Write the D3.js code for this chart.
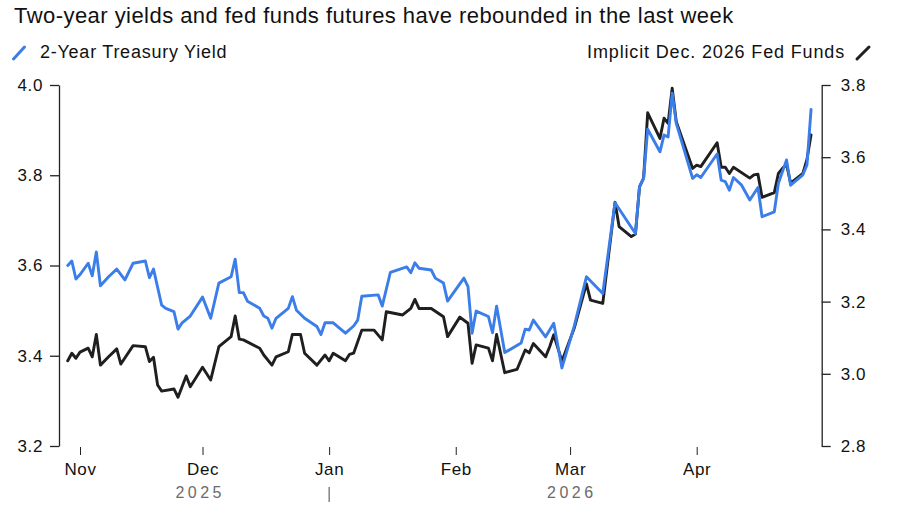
<!DOCTYPE html>
<html>
<head>
<meta charset="utf-8">
<script src="https://cdn.jsdelivr.net/npm/d3@7"></script>
<style>
  html, body { margin: 0; padding: 0; background: #fff; }
  svg { display: block; font-family: "Liberation Sans", Arial, Helvetica, sans-serif; }
</style>
</head>
<body>
<svg id="chart" width="900" height="510"></svg>
<script>
const titleText = "Two-year yields and fed funds futures have rebounded in the last week";
const seriesNames = ["2-Year Treasury Yield", "Implicit Dec. 2026 Fed Funds"];

const yieldDates = ["2025-10-29","2025-10-30","2025-10-31","2025-11-01","2025-11-03","2025-11-04","2025-11-05","2025-11-06","2025-11-08","2025-11-10","2025-11-12","2025-11-14","2025-11-17","2025-11-18","2025-11-19","2025-11-21","2025-11-22","2025-11-24","2025-11-25","2025-11-26","2025-11-28","2025-12-01","2025-12-03","2025-12-05","2025-12-08","2025-12-09","2025-12-10","2025-12-11","2025-12-12","2025-12-15","2025-12-16","2025-12-17","2025-12-18","2025-12-19","2025-12-22","2025-12-23","2025-12-24","2025-12-26","2025-12-29","2025-12-30","2025-12-31","2026-01-02","2026-01-05","2026-01-07","2026-01-08","2026-01-09","2026-01-13","2026-01-14","2026-01-16","2026-01-20","2026-01-21","2026-01-22","2026-01-23","2026-01-26","2026-01-27","2026-01-29","2026-01-30","2026-02-03","2026-02-04","2026-02-05","2026-02-06","2026-02-09","2026-02-10","2026-02-11","2026-02-13","2026-02-17","2026-02-18","2026-02-19","2026-02-20","2026-02-23","2026-02-25","2026-02-27","2026-03-02","2026-03-05","2026-03-09","2026-03-12","2026-03-17","2026-03-18","2026-03-19","2026-03-20","2026-03-23","2026-03-24","2026-03-25","2026-03-26","2026-03-27","2026-03-31","2026-04-01","2026-04-02","2026-04-06","2026-04-07","2026-04-08","2026-04-09","2026-04-10","2026-04-12","2026-04-14","2026-04-16","2026-04-17","2026-04-20","2026-04-21","2026-04-23","2026-04-24","2026-04-27","2026-04-28","2026-04-29"];
const yieldValues = [3.600,3.610,3.570,3.580,3.605,3.577,3.630,3.555,3.575,3.592,3.568,3.605,3.610,3.573,3.592,3.512,3.505,3.498,3.459,3.473,3.488,3.530,3.483,3.561,3.575,3.614,3.540,3.540,3.521,3.505,3.488,3.483,3.461,3.483,3.505,3.531,3.501,3.483,3.465,3.447,3.473,3.473,3.450,3.466,3.479,3.532,3.535,3.510,3.585,3.597,3.584,3.606,3.594,3.590,3.572,3.561,3.521,3.572,3.553,3.450,3.499,3.487,3.451,3.510,3.407,3.428,3.459,3.457,3.479,3.442,3.472,3.373,3.465,3.575,3.538,3.739,3.671,3.775,3.793,3.902,3.852,3.889,3.885,3.982,3.915,3.793,3.801,3.795,3.847,3.789,3.786,3.767,3.795,3.778,3.745,3.773,3.708,3.719,3.782,3.834,3.778,3.801,3.823,3.946];

const fedDates = ["2025-10-29","2025-10-30","2025-10-31","2025-11-01","2025-11-03","2025-11-04","2025-11-05","2025-11-06","2025-11-08","2025-11-10","2025-11-11","2025-11-14","2025-11-17","2025-11-18","2025-11-19","2025-11-20","2025-11-21","2025-11-24","2025-11-25","2025-11-27","2025-11-28","2025-12-01","2025-12-03","2025-12-05","2025-12-08","2025-12-09","2025-12-10","2025-12-11","2025-12-15","2025-12-16","2025-12-18","2025-12-19","2025-12-22","2025-12-23","2025-12-25","2025-12-26","2025-12-29","2025-12-31","2026-01-01","2026-01-02","2026-01-05","2026-01-06","2026-01-07","2026-01-09","2026-01-12","2026-01-14","2026-01-15","2026-01-19","2026-01-21","2026-01-22","2026-01-23","2026-01-26","2026-01-29","2026-01-30","2026-02-02","2026-02-04","2026-02-05","2026-02-06","2026-02-09","2026-02-10","2026-02-11","2026-02-13","2026-02-16","2026-02-18","2026-02-19","2026-02-20","2026-02-23","2026-02-24","2026-02-25","2026-02-27","2026-03-02","2026-03-05","2026-03-06","2026-03-09","2026-03-12","2026-03-13","2026-03-16","2026-03-17","2026-03-18","2026-03-19","2026-03-20","2026-03-23","2026-03-24","2026-03-25","2026-03-26","2026-03-27","2026-03-31","2026-04-01","2026-04-02","2026-04-06","2026-04-07","2026-04-08","2026-04-09","2026-04-10","2026-04-14","2026-04-15","2026-04-16","2026-04-17","2026-04-20","2026-04-21","2026-04-22","2026-04-23","2026-04-24","2026-04-27","2026-04-28","2026-04-29"];
const fedValues = [3.036,3.057,3.043,3.060,3.071,3.047,3.109,3.024,3.047,3.069,3.027,3.078,3.075,3.034,3.046,2.969,2.952,2.958,2.935,2.994,2.964,3.018,2.983,3.075,3.103,3.160,3.096,3.094,3.071,3.052,3.024,3.047,3.061,3.109,3.109,3.057,3.024,3.052,3.036,3.057,3.036,3.054,3.057,3.121,3.121,3.094,3.172,3.163,3.181,3.206,3.181,3.181,3.158,3.103,3.157,3.140,3.029,3.080,3.071,3.036,3.109,3.003,3.012,3.066,3.058,3.084,3.047,3.075,3.108,3.035,3.126,3.249,3.204,3.195,3.475,3.408,3.380,3.387,3.518,3.542,3.723,3.652,3.708,3.694,3.791,3.698,3.569,3.578,3.574,3.640,3.572,3.572,3.555,3.572,3.542,3.551,3.553,3.489,3.502,3.555,3.569,3.580,3.528,3.555,3.594,3.662];

const leftTicks = [3.2, 3.4, 3.6, 3.8, 4.0];
const rightTicks = [2.8, 3.0, 3.2, 3.4, 3.6, 3.8];
const monthTicks = ["2025-11-01","2025-12-01","2026-01-01","2026-02-01","2026-03-01","2026-04-01"];
const yearLabels = ["2025", "2026"];
const yearLabelDates = ["2025-11-30", "2026-03-01"];
const yearBoundary = "2026-01-01";

const BLUE = "#3b7de9";
const BLACK = "#1f1f1f";
const parse = d3.utcParse("%Y-%m-%d");

const svg = d3.select("#chart");

const x = d3.scaleUtc()
  .domain([parse("2025-11-01"), parse("2026-04-01")])
  .range([80, 696.7]);
const yL = d3.scaleLinear().domain([3.2, 4.0]).range([446, 85]);
const yR = d3.scaleLinear().domain([2.8, 3.8]).range([446, 85]);

// Title
svg.append("text")
  .attr("x", 14).attr("y", 23)
  .attr("font-size", 22).attr("letter-spacing", 0.45)
  .attr("fill", "#111")
  .text(titleText);

// Legend
const legendY = 58;
svg.append("line").attr("x1", 13.5).attr("y1", 59).attr("x2", 24.5).attr("y2", 47)
  .attr("stroke", BLUE).attr("stroke-width", 3).attr("stroke-linecap", "round");
svg.append("text").attr("x", 40).attr("y", legendY)
  .attr("font-size", 18).attr("letter-spacing", 0.75).attr("fill", "#111")
  .text(seriesNames[0]);
svg.append("line").attr("x1", 857).attr("y1", 59).attr("x2", 869).attr("y2", 47)
  .attr("stroke", BLACK).attr("stroke-width", 3).attr("stroke-linecap", "round");
svg.append("text").attr("x", 845).attr("y", legendY).attr("text-anchor", "end")
  .attr("font-size", 18).attr("letter-spacing", 0.85).attr("fill", "#111")
  .text(seriesNames[1]);

// Axes
function styleAxis(g) {
  g.selectAll("path.domain").attr("stroke", "#222").attr("stroke-width", 1.3);
  g.selectAll(".tick line").attr("stroke", "#222").attr("stroke-width", 1.3);
  g.selectAll(".tick text").attr("fill", "#111").attr("font-size", 17)
    .attr("letter-spacing", 0.6)
    .attr("font-family", "'Liberation Sans', Arial, sans-serif");
}

const gL = svg.append("g").attr("transform", "translate(59,0)")
  .call(d3.axisLeft(yL).tickValues(leftTicks).tickFormat(d3.format(".1f"))
    .tickSize(9).tickSizeOuter(0).tickPadding(7));
styleAxis(gL);

const gR = svg.append("g").attr("transform", "translate(821.7,0)")
  .call(d3.axisRight(yR).tickValues(rightTicks).tickFormat(d3.format(".1f"))
    .tickSize(9).tickSizeOuter(0).tickPadding(10));
styleAxis(gR);

const gX = svg.append("g").attr("transform", "translate(0,447)")
  .call(d3.axisBottom(x).tickValues(monthTicks.map(parse))
    .tickFormat(d3.utcFormat("%b")).tickSize(8).tickPadding(8));
gX.select("path.domain").remove();
styleAxis(gX);
gX.selectAll(".tick line").attr("stroke-width", 1);

// Year labels
svg.append("g").selectAll("text")
  .data(yearLabels)
  .join("text")
  .attr("x", (d, i) => x(parse(yearLabelDates[i])) + 1.75)
  .attr("y", 498)
  .attr("text-anchor", "middle")
  .attr("font-size", 16).attr("letter-spacing", 3.5)
  .attr("fill", "#6b6b6b")
  .text(d => d);
svg.append("line")
  .attr("x1", x(parse(yearBoundary))).attr("x2", x(parse(yearBoundary)))
  .attr("y1", 487).attr("y2", 502)
  .attr("stroke", "#444").attr("stroke-width", 1);

// Lines
const fedData = fedDates.map((d, i) => ({ date: parse(d), value: fedValues[i] }));
const yieldData = yieldDates.map((d, i) => ({ date: parse(d), value: yieldValues[i] }));

svg.append("path")
  .datum(fedData)
  .attr("fill", "none").attr("stroke", BLACK).attr("stroke-width", 2.9)
  .attr("stroke-linejoin", "round").attr("stroke-linecap", "round")
  .attr("d", d3.line().x(d => x(d.date)).y(d => yR(d.value)));

svg.append("path")
  .datum(yieldData)
  .attr("fill", "none").attr("stroke", BLUE).attr("stroke-width", 2.9)
  .attr("stroke-linejoin", "round").attr("stroke-linecap", "round")
  .attr("d", d3.line().x(d => x(d.date)).y(d => yL(d.value)));
</script>
</body>
</html>
